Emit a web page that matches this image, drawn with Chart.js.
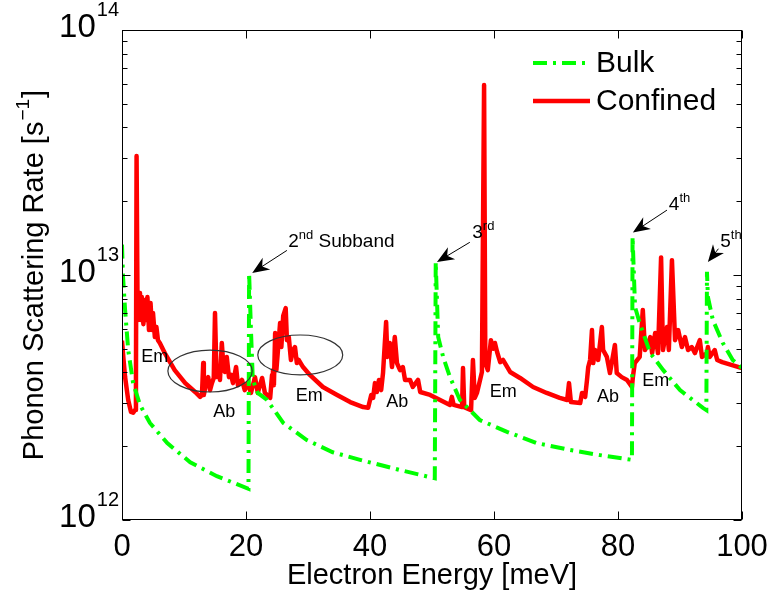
<!DOCTYPE html>
<html>
<head>
<meta charset="utf-8">
<script src="https://cdn.jsdelivr.net/npm/chart.js@4/dist/chart.umd.min.js"></script>
<style>
  html, body { margin: 0; padding: 0; background: #fff; }
</style>
</head>
<body>
<canvas id="chart" width="768" height="593"></canvas>
<script>
// Electron energy in meV, scattering rate in units of 1e12 s^-1
const bulkEnergy = [0, 0.15, 0.5, 1.0, 1.8, 2.9, 4.5, 7.3, 11.0, 15.3, 20.4,
  20.5, 20.8, 21.1, 21.9, 23.4, 26.0, 29.8, 34.0, 38.4, 44.8, 50.45,
  50.6, 51.0, 51.8, 52.9, 54.5, 57.7, 62.1, 66.9, 72.3, 77.1, 82.25,
  82.35, 82.75, 83.5, 85.2, 87.3, 90.0, 93.7, 94.25,
  94.35, 94.5, 95.3, 96.9, 98.5, 100];
const bulkRate = [13.3, 10.0, 7.2, 4.94, 3.62, 2.95, 2.49, 2.06, 1.72, 1.51, 1.34,
  10.2, 5.96, 3.73, 3.30, 3.09, 2.49, 2.12, 1.89, 1.76, 1.60, 1.48,
  11.3, 5.58, 4.63, 3.83, 3.09, 2.56, 2.29, 2.06, 1.93, 1.84, 1.76,
  14.3, 7.40, 6.37, 4.80, 4.09, 3.39, 2.87, 2.81,
  10.3, 8.13, 6.55, 5.28, 4.50, 4.17];

const confinedEnergy = [0, 0.25, 0.5, 1.0, 1.45, 1.8, 2.1, 2.25, 2.35, 2.5,
  2.6, 2.9, 3.05, 3.2, 3.45, 3.7, 3.95, 4.1, 4.35, 4.6, 4.85, 5.0, 5.3, 5.55, 5.8, 6.1,
  6.9, 8.5, 10.2, 11.8, 12.6, 12.9, 13.1, 13.2, 13.5, 13.9, 14.2, 14.5, 14.8, 15.0,
  15.25, 15.5, 15.8, 16.1, 16.4, 16.6, 16.9, 17.25, 17.6, 17.9, 18.4, 18.7, 19.35,
  19.8, 20.3, 20.8, 21.45, 21.9, 22.6, 23.05, 23.9, 24.2, 24.35, 24.5, 24.7, 24.9,
  25.5, 25.7, 26.0, 26.4, 26.6, 26.9, 27.25, 27.6, 27.9, 28.2, 28.5, 29.2, 30.3,
  32.4, 34.7, 36.8, 38.9, 39.7, 40.2, 40.5, 40.8, 41.1, 41.45, 41.8, 42.1, 42.6,
  42.8, 43.2, 43.55, 44.0, 44.35, 44.85, 45.3, 45.65, 46.45, 46.9, 47.75, 48.1,
  49.7, 51.3, 52.9, 53.2, 53.5, 54.85, 55.0, 55.2, 56.3, 56.6, 56.9, 57.25, 57.75,
  58.05, 58.4, 58.6, 59.0, 59.5, 59.85, 60.15, 60.5, 61.0, 61.45, 62.6, 64.2, 66.3,
  68.5, 70.6, 71.8, 72.1, 72.4, 73.9, 74.2, 74.7, 75.0, 75.2, 75.5, 75.8, 76.0,
  76.3, 76.8, 77.4, 77.6, 78.2, 78.7, 79.5, 79.8, 80.6, 81.45, 82.25, 82.4, 82.7,
  83.5, 84.0, 84.35, 84.8, 85.2, 85.5, 86.0, 86.45, 86.95, 87.25, 87.9, 88.2, 88.7,
  89.2, 89.7, 90.3, 90.8, 91.3, 91.9, 92.4, 93.2, 93.55, 94.35, 94.5, 94.8, 95.6,
  96.0, 96.8, 98.4, 100];
const confinedRate = [5.4, 4.5, 3.83, 3.09, 2.76, 2.74, 2.81, 3.62, 30.6, 7.9,
  6.55, 8.44, 6.55, 8.13, 6.3, 7.9, 6.55, 8.13, 5.96, 7.69, 5.96, 7.0, 5.58, 6.13, 5.42, 5.28,
  4.8, 4.09, 3.62, 3.33, 3.18, 3.24, 4.37, 3.24, 3.55, 3.83, 3.39, 3.62, 3.8, 7.0,
  3.83, 4.09, 3.73, 5.28, 4.09, 4.02, 4.63, 3.83, 3.91, 3.62, 4.21, 3.55, 3.73,
  3.39, 3.62, 3.30, 3.83, 3.30, 3.80, 3.30, 3.15, 3.91, 4.09, 3.55, 5.8, 4.09,
  6.37, 5.08, 6.8, 7.33, 5.42, 5.58, 4.5, 4.94, 5.08, 4.37, 4.5, 4.21, 3.91,
  3.49, 3.24, 3.03, 2.89, 2.87, 3.24, 3.15, 3.62, 3.33, 3.73, 3.39, 3.98, 6.43,
  4.63, 5.28, 4.21, 5.58, 4.37, 4.09, 4.21, 3.73, 3.73, 3.49, 3.73, 3.33,
  3.24, 3.09, 2.95, 3.18, 2.95, 2.89, 4.17, 2.89, 2.81, 4.5, 3.15, 3.30, 3.73,
  4.02, 59.6, 4.37, 4.09, 5.42, 5.0, 5.28, 4.85, 4.41, 4.5, 4.02, 3.8, 3.49,
  3.30, 3.15, 3.09, 3.62, 3.03, 3.0, 3.30, 3.18, 3.73, 4.21, 4.5, 5.96, 4.37,
  4.94, 4.5, 6.13, 4.94, 4.63, 3.98, 5.18, 3.98, 3.83, 3.73, 3.49, 3.83, 4.37,
  4.63, 7.2, 4.94, 5.18, 5.58, 4.8, 5.8, 4.8, 11.8, 4.94, 6.13, 4.94, 11.5,
  5.42, 5.96, 5.08, 5.58, 4.94, 5.08, 4.8, 5.42, 4.63, 4.8, 5.08, 4.63, 4.94,
  4.5, 4.41, 4.29, 4.17];

const seriesNames = ['Bulk', 'Confined'];
const xTicks = [0, 20, 40, 60, 80, 100];
const yDecades = [12, 13, 14];
const yMinor = [2, 3, 4, 5, 6, 7, 8, 9];
const yTitle = ['Phonon Scattering Rate [s', '\u22121', ']'];

// Em / Ab region labels (energy meV, rate 1e12 s^-1)
const regionText = ['Em', 'Ab', 'Em', 'Ab', 'Em', 'Ab', 'Em'];
const regionEnergy = [5.3, 16.5, 30.2, 44.4, 61.5, 78.4, 86.1];
const regionRate = [4.63, 2.76, 3.21, 3.03, 3.33, 3.18, 3.69];

// ellipses: energy range and rate range
const ellipseEnergy = [[7.4, 21.0], [21.9, 35.6]];
const ellipseRate = [[3.33, 4.94], [3.91, 5.69]];

// subband arrows
const arrowBase = ['2', '3', '4', '5'];
const arrowSup = ['nd', 'rd', 'th', 'th'];
const arrowRest = [' Subband', '', '', ''];
const arrowTextAt = [[26.8, 13.0], [56.5, 14.2], [88.2, 18.4], [96.5, 13.0]];
const arrowTail = [[26.6, 12.6], [56.1, 13.6], [87.9, 18.4], [96.2, 12.8]];
const arrowTip = [[21.0, 10.2], [50.8, 11.3], [82.4, 14.9], [94.5, 11.3]];

const FONT = '"Liberation Sans", Arial, Helvetica, sans-serif';

function toPoints(xs, ys) {
  return xs.map((x, i) => ({ x: x, y: ys[i] * 1e12 }));
}

function drawArrow(ctx, x0, y0, x1, y1) {
  const ang = Math.atan2(y1 - y0, x1 - x0);
  const c = Math.cos(ang), s = Math.sin(ang);
  const len = 17, half = 7;
  ctx.beginPath();
  ctx.moveTo(x0, y0);
  ctx.lineTo(x1 - c * len * 0.6, y1 - s * len * 0.6);
  ctx.stroke();
  ctx.beginPath();
  ctx.moveTo(x1, y1);
  ctx.lineTo(x1 - c * len + s * half, y1 - s * len - c * half);
  ctx.lineTo(x1 - c * len * 0.7, y1 - s * len * 0.7);
  ctx.lineTo(x1 - c * len - s * half, y1 - s * len + c * half);
  ctx.closePath();
  ctx.fill();
}

const framePlugin = {
  id: 'frame',
  beforeDraw(chart) {
    const ctx = chart.ctx;
    ctx.save();
    ctx.fillStyle = '#fff';
    ctx.fillRect(0, 0, chart.width, chart.height);
    ctx.restore();
  },
  afterDraw(chart) {
    const { ctx, chartArea: a, scales: { x, y } } = chart;
    ctx.save();
    ctx.strokeStyle = '#000';
    ctx.fillStyle = '#000';
    ctx.lineWidth = 1;

    // axes box
    const L = Math.round(a.left) + 0.5, R = Math.round(a.right) - 0.5;
    const T = Math.round(a.top) + 0.5, B = Math.round(a.bottom) - 0.5;
    ctx.strokeRect(L, T, R - L, B - T);

    // x ticks (inside, top and bottom)
    ctx.beginPath();
    xTicks.forEach(v => {
      const px = Math.round(x.getPixelForValue(v)) + 0.5;
      ctx.moveTo(px, B); ctx.lineTo(px, B - 8);
      ctx.moveTo(px, T); ctx.lineTo(px, T + 8);
    });
    // y ticks (inside, left and right)
    yDecades.forEach((d, i) => {
      const py = Math.round(y.getPixelForValue(Math.pow(10, d))) + 0.5;
      ctx.moveTo(L, py); ctx.lineTo(L + 8, py);
      ctx.moveTo(R, py); ctx.lineTo(R - 8, py);
      if (i < yDecades.length - 1) {
        yMinor.forEach(m => {
          const pm = Math.round(y.getPixelForValue(m * Math.pow(10, d))) + 0.5;
          ctx.moveTo(L, pm); ctx.lineTo(L + 5, pm);
          ctx.moveTo(R, pm); ctx.lineTo(R - 5, pm);
        });
      }
    });
    ctx.stroke();

    // y tick labels 10^n
    yDecades.forEach(d => {
      const py = y.getPixelForValue(Math.pow(10, d));
      ctx.font = '20px ' + FONT;
      const sw = ctx.measureText(String(d)).width;
      const right = a.left - 3;
      ctx.textBaseline = 'middle';
      ctx.textAlign = 'left';
      ctx.fillText(String(d), right - sw, py - 20);
      ctx.font = '33px ' + FONT;
      ctx.textAlign = 'right';
      ctx.fillText('10', right - sw - 1, py - 2);
    });

    // y axis title with superscript
    ctx.save();
    ctx.translate(35, (a.top + a.bottom) / 2);
    ctx.rotate(-Math.PI / 2);
    ctx.textBaseline = 'middle';
    ctx.textAlign = 'left';
    ctx.font = '29px ' + FONT;
    const w1 = ctx.measureText(yTitle[0]).width;
    const w3 = ctx.measureText(yTitle[2]).width;
    ctx.font = '19px ' + FONT;
    const w2 = ctx.measureText(yTitle[1]).width;
    const x0 = -(w1 + w2 + w3 + 2) / 2;
    ctx.font = '29px ' + FONT;
    ctx.fillText(yTitle[0], x0, 0);
    ctx.font = '19px ' + FONT;
    ctx.fillText(yTitle[1], x0 + w1 + 1, -11);
    ctx.font = '29px ' + FONT;
    ctx.fillText(yTitle[2], x0 + w1 + w2 + 2, 0);
    ctx.restore();

    // ellipses
    ctx.strokeStyle = '#333';
    ctx.lineWidth = 1.2;
    ellipseEnergy.forEach((er, i) => {
      const x1 = x.getPixelForValue(er[0]), x2 = x.getPixelForValue(er[1]);
      const y1 = y.getPixelForValue(ellipseRate[i][0] * 1e12);
      const y2 = y.getPixelForValue(ellipseRate[i][1] * 1e12);
      ctx.beginPath();
      ctx.ellipse((x1 + x2) / 2, (y1 + y2) / 2, Math.abs(x2 - x1) / 2, Math.abs(y1 - y2) / 2, 0, 0, Math.PI * 2);
      ctx.stroke();
    });

    // Em / Ab labels
    ctx.fillStyle = '#000';
    ctx.font = '18px ' + FONT;
    ctx.textAlign = 'center';
    ctx.textBaseline = 'middle';
    regionText.forEach((t, i) => {
      ctx.fillText(t, x.getPixelForValue(regionEnergy[i]), y.getPixelForValue(regionRate[i] * 1e12));
    });

    // subband arrows and labels
    ctx.strokeStyle = '#000';
    ctx.lineWidth = 1;
    arrowBase.forEach((b, i) => {
      drawArrow(ctx,
        x.getPixelForValue(arrowTail[i][0]), y.getPixelForValue(arrowTail[i][1] * 1e12),
        x.getPixelForValue(arrowTip[i][0]), y.getPixelForValue(arrowTip[i][1] * 1e12));
      const tx = x.getPixelForValue(arrowTextAt[i][0]);
      const ty = y.getPixelForValue(arrowTextAt[i][1] * 1e12);
      ctx.textAlign = 'left';
      ctx.textBaseline = 'alphabetic';
      ctx.font = '19px ' + FONT;
      ctx.fillText(b, tx, ty);
      let w = ctx.measureText(b).width;
      ctx.font = '13px ' + FONT;
      ctx.fillText(arrowSup[i], tx + w, ty - 8);
      w += ctx.measureText(arrowSup[i]).width;
      if (arrowRest[i]) {
        ctx.font = '19px ' + FONT;
        ctx.fillText(arrowRest[i], tx + w, ty);
      }
    });

    // legend
    const legendY = [63, 101];
    chart.data.datasets.forEach((ds, i) => {
      ctx.save();
      ctx.strokeStyle = ds.borderColor;
      ctx.lineWidth = ds.borderWidth;
      ctx.setLineDash(ds.borderDash || []);
      ctx.beginPath();
      ctx.moveTo(533, legendY[i]);
      ctx.lineTo(590, legendY[i]);
      ctx.stroke();
      ctx.restore();
      ctx.fillStyle = '#000';
      ctx.font = '30px ' + FONT;
      ctx.textAlign = 'left';
      ctx.textBaseline = 'middle';
      ctx.fillText(ds.label, 596, legendY[i] + 1);
    });

    ctx.restore();
  }
};

const ctx = document.getElementById('chart').getContext('2d');
new Chart(ctx, {
  type: 'line',
  data: {
    datasets: [
      {
        label: seriesNames[0],
        data: toPoints(bulkEnergy, bulkRate),
        borderColor: '#00ff00',
        borderWidth: 4,
        borderDash: [14, 6, 3, 6],
        pointRadius: 0,
        fill: false,
        tension: 0,
      },
      {
        label: seriesNames[1],
        data: toPoints(confinedEnergy, confinedRate),
        borderColor: '#ff0000',
        borderWidth: 4.5,
        borderJoinStyle: 'round',
        pointRadius: 0,
        fill: false,
        tension: 0,
      },
    ],
  },
  options: {
    responsive: false,
    animation: false,
    layout: { padding: { top: 30, right: 26, bottom: 0, left: 0 } },
    plugins: {
      legend: { display: false },
      tooltip: { enabled: false },
    },
    scales: {
      x: {
        type: 'linear',
        min: 0,
        max: 100,
        grid: { display: false, drawTicks: false },
        border: { display: false },
        ticks: {
          stepSize: 20,
          color: '#000',
          font: { family: FONT, size: 31 },
          padding: 9,
          maxRotation: 0,
          autoSkip: false,
        },
        afterBuildTicks: (scale) => {
          scale.ticks = xTicks.map(v => ({ value: v }));
        },
        title: {
          display: true,
          text: 'Electron Energy [meV]',
          color: '#000',
          font: { family: FONT, size: 29 },
          padding: { top: 0, bottom: 0 },
        },
        afterFit: (scale) => {
          scale.height = 73;
          scale.paddingLeft = 0;
          scale.paddingRight = 0;
        },
      },
      y: {
        type: 'logarithmic',
        min: 1e12,
        max: 1e14,
        grid: { display: false, drawTicks: false },
        border: { display: false },
        ticks: { display: false },
        afterFit: (scale) => {
          scale.width = 122;
        },
      },
    },
  },
  plugins: [framePlugin],
});
</script>
</body>
</html>
